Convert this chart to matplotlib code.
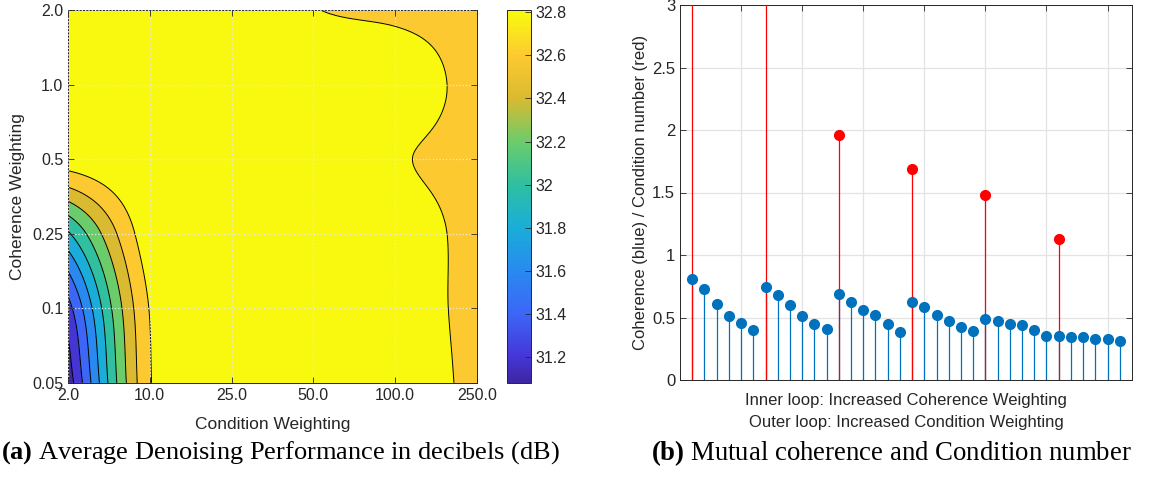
import numpy as np
import matplotlib
matplotlib.use('Agg')
from matplotlib import pyplot as plt
from matplotlib.colors import LinearSegmentedColormap, Normalize
from matplotlib.cm import ScalarMappable

# grid of weightings (equally spaced on the plot)
cond_labels = ['2.0', '10.0', '25.0', '50.0', '100.0', '250.0']
coh_labels = ['0.05', '0.1', '0.25', '0.5', '1.0', '2.0']

# average denoising PSNR in dB, rows: coherence weighting, cols: condition weighting
psnr = np.array([
    [31.08, 32.78, 33.00, 33.00, 33.02, 32.70],
    [31.32, 32.81, 33.00, 33.00, 32.96, 32.70],
    [31.97, 32.92, 33.00, 33.00, 32.95, 32.70],
    [32.90, 33.00, 33.00, 33.00, 32.83, 32.70],
    [33.00, 33.00, 33.00, 33.00, 32.95, 32.70],
    [33.00, 33.00, 33.00, 32.81, 32.75, 32.70],
])
psnr_levels = [31.2, 31.4, 31.6, 31.8, 32.0, 32.2, 32.4, 32.6, 32.8]
color_limits = (31.08, 32.81)

# mutual coherence for every run (inner loop: coherence, outer loop: condition)
coherence = [0.805, 0.728, 0.605, 0.512, 0.453, 0.397,
             0.741, 0.677, 0.600, 0.512, 0.448, 0.405,
             0.685, 0.624, 0.557, 0.520, 0.445, 0.387,
             0.621, 0.584, 0.520, 0.475, 0.427, 0.392,
             0.491, 0.475, 0.451, 0.440, 0.397, 0.349,
             0.352, 0.344, 0.344, 0.331, 0.328, 0.315]
# condition number, one per outer loop
condition = [4.2, 3.3, 1.96, 1.69, 1.48, 1.13]

# parula-like colour map
parula = LinearSegmentedColormap.from_list('parula', [
    (0.0, (0.24, 0.15, 0.63)), (0.07, (0.27, 0.21, 0.84)), (0.185, (0.24, 0.40, 0.97)),
    (0.30, (0.16, 0.54, 0.94)), (0.416, (0.10, 0.68, 0.85)), (0.53, (0.18, 0.75, 0.63)),
    (0.647, (0.42, 0.80, 0.42)), (0.763, (0.85, 0.73, 0.19)), (0.878, (0.99, 0.79, 0.19)),
    (1.0, (0.976, 0.984, 0.055))])

plt.rcParams['font.family'] = 'Liberation Sans'
plt.rcParams['mathtext.fontset'] = 'custom'
plt.rcParams['mathtext.bf'] = 'Liberation Serif:bold'
plt.rcParams['mathtext.rm'] = 'Liberation Serif'
dark = '#262626'
plt.rcParams['text.color'] = dark
plt.rcParams['axes.labelcolor'] = dark
plt.rcParams['xtick.color'] = dark
plt.rcParams['ytick.color'] = dark
plt.rcParams['axes.edgecolor'] = dark


def cubic(y, t):
    # cubic hermite through y at knots 0..n-1, central-difference slopes
    y = np.asarray(y, float)
    n = len(y)
    m = np.gradient(y)
    k = np.clip(np.floor(t).astype(int), 0, n - 2)
    s = t - k
    return ((2 * s**3 - 3 * s**2 + 1) * y[k] + (s**3 - 2 * s**2 + s) * m[k]
            + (-2 * s**3 + 3 * s**2) * y[k + 1] + (s**3 - s**2) * m[k + 1])


t = np.linspace(0, 5, 301)
zx = np.array([cubic(row, t) for row in psnr])
Z = np.array([cubic(col, t) for col in zx.T]).T

norm = Normalize(*color_limits)
bounds = [min(color_limits[0], Z.min())] + psnr_levels + [Z.max()]
fill_colors = [parula(norm(b)) for b in bounds[:-1]]

fig = plt.figure(figsize=(11.73, 4.78), dpi=100)

# (a) contour of denoising performance
ax1 = fig.add_axes([68 / 1173, 1 - 383 / 478, 409 / 1173, 373 / 478])
ax1.contourf(t, t, Z, levels=bounds, colors=fill_colors)
ax1.contour(t, t, Z, levels=psnr_levels, colors='k', linewidths=0.7)
ax1.set_xlim(0, 5)
ax1.set_ylim(0, 5)
ax1.set_xticks(range(6))
ax1.set_xticklabels(cond_labels)
ax1.set_yticks(range(6))
ax1.set_yticklabels(coh_labels)
ax1.tick_params(direction='in', top=True, right=True, labelsize=11.5, length=4, width=0.6)
ax1.grid(True, linestyle=':', color='#e8e8e8', linewidth=0.9)
ax1.set_axisbelow(False)
ax1.set_xlabel('Condition Weighting', fontsize=12.5)
ax1.set_ylabel('Coherence Weighting', fontsize=12.5)
ax1.xaxis.set_label_coords(0.5, -0.09)
ax1.yaxis.set_label_coords(-0.105, 0.5)
for sp in ax1.spines.values():
    sp.set_linewidth(0.7)

cax = fig.add_axes([507 / 1173, 1 - 383 / 478, 24 / 1173, 373 / 478])
cb = fig.colorbar(ScalarMappable(norm=norm, cmap=parula), cax=cax, ticks=psnr_levels)
cb.ax.set_yticklabels(['%g' % v for v in psnr_levels])
cb.ax.tick_params(direction='in', labelsize=11.5, length=4, width=0.6)
cb.outline.set_linewidth(0.7)

# (b) coherence and condition number stems
blue = '#0072bd'
ax2 = fig.add_axes([680 / 1173, 1 - 380 / 478, 452 / 1173, 375 / 478])
runs = np.arange(1, len(coherence) + 1)
ml, sl, bl = ax2.stem(runs, coherence, basefmt=' ')
sl.set(color=blue, linewidth=0.9, zorder=2)
ml.set(color=blue, markersize=7, zorder=5)
ml2, sl2, bl2 = ax2.stem(runs[::6], condition, basefmt=' ')
sl2.set(color='red', linewidth=0.9, zorder=3)
ml2.set(color='red', markersize=7, zorder=4)
ax2.set_xlim(0, 37)
ax2.set_ylim(0, 3)
ax2.set_xticks(np.arange(5, 36, 5))
ax2.set_xticklabels([])
ax2.set_yticks(np.arange(0, 3.01, 0.5))
ax2.set_yticklabels(['0', '0.5', '1', '1.5', '2', '2.5', '3'])
ax2.tick_params(direction='in', top=True, right=True, labelsize=12, length=4, width=0.6)
ax2.grid(True, color='#e3e3e3', linewidth=0.9)
ax2.set_axisbelow(True)
ax2.set_xlabel('Inner loop: Increased Coherence Weighting\nOuter loop: Increased Condition Weighting',
               fontsize=12, linespacing=1.55)
ax2.set_ylabel('Coherence (blue) / Condition number (red)', fontsize=12)
ax2.xaxis.set_label_coords(0.5, -0.035)
ax2.yaxis.set_label_coords(-0.071, 0.5)
for sp in ax2.spines.values():
    sp.set_linewidth(0.7)

fig.text(280 / 1173, 1 - 453 / 478, r'$\mathbf{(a)}$ Average Denoising Performance in decibels (dB)',
         family='Liberation Serif', fontsize=19, ha='center', va='center', color='black')
fig.text(891 / 1173, 1 - 453 / 478, r'$\mathbf{(b)}$ Mutual coherence and Condition number',
         family='Liberation Serif', fontsize=19.3, ha='center', va='center', color='black')

fig.savefig('out.png', dpi=100)
